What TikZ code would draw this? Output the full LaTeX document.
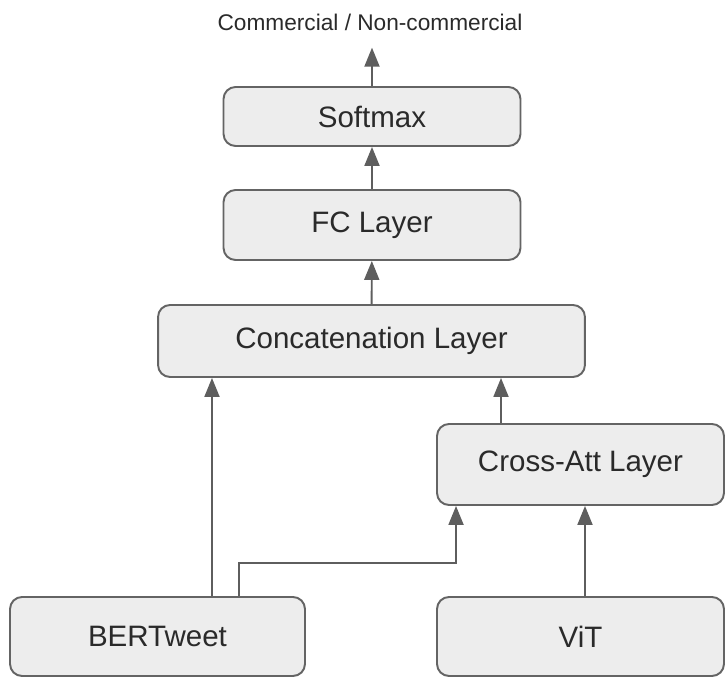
\documentclass[tikz,border=0pt]{standalone}
\usepackage{fontspec}
\setmainfont{Liberation Sans}
\usepackage{xcolor}
\usetikzlibrary{arrows.meta, positioning}

\definecolor{boxfill}{HTML}{EDEDED}
\definecolor{boxline}{HTML}{646464}
\definecolor{flowline}{HTML}{5E5E5E}
\definecolor{txt}{HTML}{2A2A2A}

\begin{document}
\begin{tikzpicture}[x=0.02cm, y=-0.02cm, font=\fontsize{16.8}{20}\selectfont,
        layer/.style={draw=boxline, line width=1.1pt, fill=boxfill, rounded corners=0.24cm,
                    inner sep=0pt, text=txt, align=center},
        flow/.style={draw=flowline, line width=1.1pt,
                    -{Triangle[length=0.38cm, width=0.3cm]}}]
      \useasboundingbox (0,0) rectangle (725,678);
      \node[text=txt, inner sep=0pt, font=\fontsize{12.9}{15}\selectfont] (out) at (370,22)
            {Commercial / Non-commercial};
      \node[layer, minimum width=5.94cm, minimum height=1.18cm] (softmax) at (372,116.5) {Softmax};
      \node[layer, minimum width=5.94cm, minimum height=1.40cm] (fc) at (372,225) {FC Layer};
      \node[layer, minimum width=8.54cm, minimum height=1.44cm] (concat) at (371.5,341) {Concatenation Layer};
      \node[layer, minimum width=5.74cm, minimum height=1.62cm] (cross) at (580.5,464.5) {Cross-Att Layer};
      \node[layer, minimum width=5.90cm, minimum height=1.58cm] (bert) at (157.5,636.5) {BERTweet};
      \node[layer, minimum width=5.74cm, minimum height=1.58cm] (vit) at (580.5,636.5) {ViT};
      \draw[flow] (softmax.north) -- ([yshift=-0.34cm]softmax.north |- out.south);
      \draw[flow] (fc) -- (softmax);
      \draw[flow] (concat) -- (fc);
      \draw[flow] ([xshift=-1.59cm]cross.north) -- ([xshift=-1.59cm]cross.north |- concat.south);
      \draw[flow] ([xshift=1.09cm]bert.north) -- ([xshift=1.09cm]bert.north |- concat.south);
      % text branch into the cross attention
      \draw[flow] ([xshift=1.63cm]bert.north) -- ++(0,-33) -| ([xshift=-2.49cm]cross.south);
      \draw[flow] ([xshift=0.09cm]vit.north) -- ([xshift=0.09cm]vit.north |- cross.south);
    \end{tikzpicture}
\end{document}
